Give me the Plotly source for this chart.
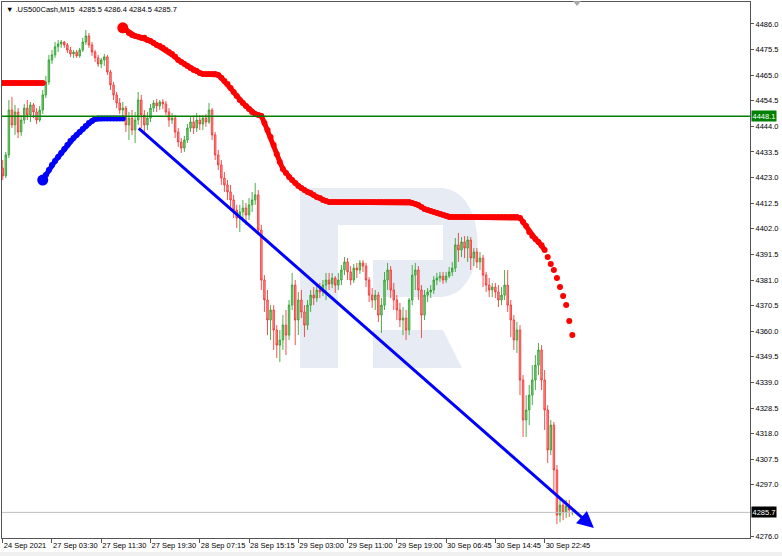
import plotly.graph_objects as go

# ---------------- data (M15 candles sampled every 2 bars) ----------------
opens = [4426.9, 4423.7, 4432.3, 4450.7, 4444.6, 4449.9, 4441.7, 4446.6, 4451.5, 4448.7,
         4452.8, 4449.9, 4446.6, 4450.7, 4456.9, 4462.2, 4471.2, 4473.3, 4476.6, 4477.8,
         4478.6, 4477.4, 4475.3, 4473.7, 4474.5, 4472.9, 4475.3, 4478.6, 4481.1, 4477.4,
         4474.5, 4472.1, 4469.6, 4471.2, 4472.5, 4466.3, 4461.0, 4456.9, 4453.6, 4450.7,
         4451.5, 4444.6, 4447.4, 4442.5, 4446.6, 4454.8, 4448.7, 4444.6, 4447.4, 4451.5,
         4453.6, 4452.4, 4454.0, 4453.2, 4449.9, 4446.6, 4447.4, 4441.7, 4437.6, 4435.1,
         4438.4, 4443.3, 4445.8, 4443.3, 4446.6, 4445.0, 4447.4, 4445.8, 4450.7, 4440.5,
         4432.3, 4428.2, 4422.8, 4420.0, 4417.1, 4413.8, 4409.7, 4406.4, 4408.9, 4410.5,
         4407.7, 4411.8, 4413.8, 4415.9, 4401.5, 4381.0, 4372.8, 4364.6, 4368.7, 4360.5,
         4354.3, 4356.4, 4362.5, 4358.4, 4370.7, 4378.9, 4364.6, 4372.8, 4367.9, 4362.5,
         4370.7, 4374.8, 4373.6, 4376.9, 4376.1, 4378.9, 4381.0, 4379.4, 4381.8, 4378.9,
         4381.0, 4385.1, 4388.4, 4384.3, 4381.0, 4385.9, 4385.1, 4388.0, 4386.7, 4381.0,
         4374.8, 4372.8, 4374.8, 4366.6, 4370.7, 4381.0, 4385.1, 4376.9, 4372.8, 4368.7,
         4364.6, 4365.4, 4360.5, 4372.8, 4383.0, 4385.1, 4376.9, 4366.6, 4374.8, 4376.1,
         4376.9, 4381.0, 4381.8, 4382.6, 4381.0, 4382.6, 4384.3, 4385.9, 4395.4, 4393.3,
         4396.6, 4394.1, 4397.4, 4390.0, 4392.5, 4388.4, 4390.0, 4383.0, 4378.9, 4376.9,
         4378.1, 4376.1, 4372.8, 4374.8, 4378.9, 4370.7, 4364.6, 4356.4, 4360.5, 4340.0,
         4323.6, 4327.7, 4333.8, 4340.0, 4346.1, 4352.3, 4340.0, 4327.7, 4311.3, 4321.5,
         4303.1, 4284.6, 4288.7, 4285.8, 4288.3, 4285.5]

highs = [4430.2, 4433.5, 4454.8, 4456.1, 4452.8, 4451.5, 4448.7, 4453.2, 4454.8, 4454.0,
         4453.6, 4451.5, 4452.4, 4458.9, 4464.7, 4473.3, 4475.3, 4478.6, 4479.4, 4479.4,
         4479.0, 4478.2, 4476.6, 4475.3, 4475.3, 4476.2, 4480.3, 4483.5, 4482.3, 4478.6,
         4475.3, 4473.3, 4472.1, 4473.7, 4473.3, 4467.1, 4462.2, 4458.1, 4455.6, 4454.0,
         4452.4, 4449.9, 4450.7, 4449.9, 4458.1, 4456.9, 4450.7, 4449.9, 4453.2, 4454.8,
         4455.2, 4454.8, 4455.2, 4454.4, 4451.5, 4449.5, 4448.7, 4443.3, 4439.2, 4440.1,
         4445.0, 4447.9, 4448.3, 4449.5, 4448.7, 4448.7, 4449.1, 4453.6, 4451.5, 4441.7,
         4434.3, 4430.2, 4425.3, 4422.0, 4420.0, 4415.9, 4411.8, 4411.8, 4413.8, 4412.6,
         4414.6, 4417.1, 4420.8, 4417.9, 4403.6, 4383.0, 4376.9, 4370.7, 4370.7, 4362.5,
         4360.5, 4366.6, 4368.7, 4372.8, 4383.9, 4381.0, 4376.1, 4376.9, 4370.7, 4372.8,
         4376.9, 4378.1, 4378.9, 4379.8, 4381.0, 4383.9, 4383.9, 4383.9, 4382.6, 4383.9,
         4387.1, 4390.4, 4390.0, 4386.7, 4387.6, 4388.0, 4389.2, 4389.2, 4388.0, 4382.2,
         4377.7, 4376.9, 4376.1, 4373.6, 4384.3, 4388.0, 4386.7, 4379.8, 4374.8, 4371.6,
         4369.9, 4368.7, 4373.6, 4387.1, 4388.0, 4386.7, 4378.9, 4376.9, 4377.7, 4378.9,
         4382.6, 4383.9, 4384.3, 4384.3, 4384.3, 4386.3, 4388.4, 4398.2, 4400.3, 4398.6,
         4399.0, 4399.0, 4398.6, 4394.1, 4394.1, 4392.5, 4391.3, 4384.3, 4381.8, 4379.8,
         4379.8, 4378.9, 4378.1, 4385.1, 4385.1, 4372.8, 4366.6, 4363.8, 4362.5, 4342.0,
         4333.8, 4337.9, 4346.1, 4350.2, 4355.2, 4354.3, 4344.1, 4329.7, 4323.6, 4322.8,
         4305.1, 4290.8, 4289.9, 4290.8, 4290.8, 4286.4]

lows = [4422.0, 4422.8, 4431.0, 4443.3, 4440.5, 4439.2, 4440.1, 4445.0, 4446.6, 4445.8,
        4447.4, 4445.0, 4445.8, 4449.1, 4455.6, 4461.0, 4469.6, 4472.1, 4474.5, 4476.2,
        4476.2, 4474.1, 4472.5, 4472.1, 4472.1, 4472.1, 4474.5, 4477.4, 4476.2, 4472.9,
        4470.4, 4468.4, 4467.9, 4468.8, 4465.1, 4458.9, 4454.8, 4451.5, 4449.1, 4448.3,
        4441.7, 4438.4, 4440.5, 4437.2, 4444.6, 4443.3, 4441.7, 4442.5, 4445.8, 4449.9,
        4449.9, 4450.7, 4451.1, 4448.7, 4443.8, 4445.0, 4439.2, 4435.6, 4433.1, 4433.5,
        4437.2, 4441.7, 4440.9, 4441.7, 4442.5, 4442.5, 4443.8, 4445.0, 4438.4, 4430.2,
        4426.1, 4420.0, 4417.1, 4413.8, 4410.5, 4406.4, 4402.3, 4400.7, 4404.8, 4403.6,
        4405.6, 4408.9, 4411.8, 4399.5, 4376.9, 4367.9, 4358.4, 4356.4, 4352.3, 4349.0,
        4347.4, 4352.3, 4350.2, 4356.4, 4368.7, 4354.3, 4358.4, 4365.4, 4357.6, 4360.5,
        4367.9, 4370.7, 4372.0, 4373.6, 4374.4, 4372.8, 4376.9, 4377.7, 4375.7, 4376.9,
        4378.9, 4383.0, 4381.0, 4378.9, 4379.8, 4381.8, 4383.5, 4384.3, 4378.1, 4372.0,
        4369.5, 4368.7, 4363.8, 4359.3, 4368.7, 4376.9, 4373.6, 4368.7, 4364.6, 4361.7,
        4358.4, 4356.4, 4358.4, 4370.7, 4376.9, 4372.8, 4357.2, 4364.6, 4372.0, 4373.6,
        4375.3, 4378.9, 4380.2, 4379.4, 4379.8, 4381.8, 4382.6, 4384.3, 4388.4, 4390.4,
        4390.0, 4388.4, 4385.1, 4386.7, 4385.9, 4385.1, 4378.1, 4376.1, 4374.0, 4374.0,
        4373.6, 4369.9, 4370.7, 4372.8, 4367.9, 4357.6, 4352.3, 4351.1, 4333.8, 4316.6,
        4316.6, 4321.5, 4329.7, 4335.9, 4342.0, 4335.9, 4319.5, 4305.9, 4309.2, 4293.6,
        4280.9, 4281.7, 4282.5, 4283.4, 4283.8, 4284.5]

closes = [4423.7, 4432.3, 4450.7, 4444.6, 4449.9, 4441.7, 4446.6, 4451.5, 4448.7, 4452.8,
          4449.9, 4446.6, 4450.7, 4456.9, 4462.2, 4471.2, 4473.3, 4476.6, 4477.8, 4478.6,
          4477.4, 4475.3, 4473.7, 4474.5, 4472.9, 4475.3, 4478.6, 4481.1, 4477.4, 4474.5,
          4472.1, 4469.6, 4471.2, 4472.5, 4466.3, 4461.0, 4456.9, 4453.6, 4450.7, 4451.5,
          4444.6, 4447.4, 4442.5, 4446.6, 4454.8, 4448.7, 4444.6, 4447.4, 4451.5, 4453.6,
          4452.4, 4454.0, 4453.2, 4449.9, 4446.6, 4447.4, 4441.7, 4437.6, 4435.1, 4438.4,
          4443.3, 4445.8, 4443.3, 4446.6, 4445.0, 4447.4, 4445.8, 4450.7, 4440.5, 4432.3,
          4428.2, 4422.8, 4420.0, 4417.1, 4413.8, 4409.7, 4406.4, 4408.9, 4410.5, 4407.7,
          4411.8, 4413.8, 4415.9, 4401.5, 4381.0, 4372.8, 4364.6, 4368.7, 4360.5, 4354.3,
          4356.4, 4362.5, 4358.4, 4370.7, 4378.9, 4364.6, 4372.8, 4367.9, 4362.5, 4370.7,
          4374.8, 4373.6, 4376.9, 4376.1, 4378.9, 4381.0, 4379.4, 4381.8, 4378.9, 4381.0,
          4385.1, 4388.4, 4384.3, 4381.0, 4385.9, 4385.1, 4388.0, 4386.7, 4381.0, 4374.8,
          4372.8, 4374.8, 4366.6, 4370.7, 4381.0, 4385.1, 4376.9, 4372.8, 4368.7, 4364.6,
          4365.4, 4360.5, 4372.8, 4383.0, 4385.1, 4376.9, 4366.6, 4374.8, 4376.1, 4376.9,
          4381.0, 4381.8, 4382.6, 4381.0, 4382.6, 4384.3, 4385.9, 4395.4, 4393.3, 4396.6,
          4394.1, 4397.4, 4390.0, 4392.5, 4388.4, 4390.0, 4383.0, 4378.9, 4376.9, 4378.1,
          4376.1, 4372.8, 4374.8, 4378.9, 4370.7, 4364.6, 4356.4, 4360.5, 4340.0, 4323.6,
          4327.7, 4333.8, 4340.0, 4346.1, 4352.3, 4340.0, 4327.7, 4311.3, 4321.5, 4303.1,
          4284.6, 4288.7, 4285.8, 4288.3, 4286.7, 4285.7]

# upper (red) trailing indicator, None where not drawn
red_vals = [4461.8, 4461.8, 4461.8, 4461.8, 4461.8, 4461.8, 4461.8, 4461.8, 4461.8, 4461.8,
            4461.8, 4461.8, 4461.8, 4461.8, None, None, None, None, None, None,
            None, None, None, None, None, None, None, None, None, None,
            None, None, None, None, None, None, None, None, None, 4484.4,
            4483.5, 4482.3, 4481.5, 4481.1, 4480.7, 4480.3, 4480.3, 4479.4, 4479.0, 4478.2,
            4477.4, 4477.0, 4476.2, 4475.3, 4474.5, 4473.7, 4472.5, 4471.2, 4470.4, 4469.6,
            4468.8, 4467.9, 4467.1, 4466.7, 4465.9, 4465.5, 4465.5, 4465.5, 4465.5, 4465.5,
            4465.1, 4463.9, 4462.6, 4461.4, 4459.7, 4458.1, 4456.5, 4454.8, 4453.6, 4452.4,
            4451.1, 4449.9, 4449.1, 4448.7, 4448.3, 4445.4, 4442.5, 4439.6, 4436.4, 4432.7,
            4429.4, 4426.5, 4424.9, 4423.2, 4422.0, 4420.8, 4419.5, 4418.7, 4417.9, 4417.1,
            4416.7, 4415.9, 4415.0, 4414.6, 4413.8, 4413.4, 4413.0, 4413.0, 4413.0, 4413.0,
            4413.0, 4413.0, 4413.0, 4413.0, 4413.0, 4413.0, 4413.0, 4413.0, 4413.0, 4413.0,
            4413.0, 4413.0, 4413.0, 4413.0, 4413.0, 4413.0, 4413.0, 4413.0, 4413.0, 4413.0,
            4413.0, 4413.0, 4413.0, 4412.6, 4412.2, 4411.8, 4410.9, 4410.1, 4409.7, 4409.3,
            4408.9, 4408.5, 4408.1, 4407.7, 4407.2, 4406.8, 4406.8, 4406.8, 4406.8, 4406.8,
            4406.8, 4406.8, 4406.8, 4406.8, 4406.8, 4406.8, 4406.8, 4406.8, 4406.8, 4406.8,
            4406.8, 4406.8, 4406.8, 4406.8, 4406.8, 4406.8, 4406.8, 4406.8, 4406.4, 4404.8,
            4403.1, 4400.7, 4399.0, 4397.8, 4396.6, 4395.3, 4393.3, 4390.4, 4387.6, 4385.1,
            4381.8, 4378.1, 4374.4, 4370.7, 4364.2, 4358.4]

# lower (blue) trailing indicator, starts at bar 13
blue_start = 13
blue_vals = [4422.0, 4424.1, 4426.1, 4428.2, 4429.8, 4431.4, 4433.1, 4434.7, 4436.4, 4438.0,
             4439.2, 4440.5, 4441.7, 4442.9, 4444.2, 4445.4, 4446.2, 4447.0, 4447.2, 4447.2,
             4447.2, 4447.2, 4447.2, 4447.2, 4447.2, 4447.2, 4447.2]

# trend line (bar index, price) start and arrow tip
trend_bar = [43.7, 192.0]
trend_price = [4443.7, 4279.3]

level_line = 4448.1
bid_price = 4285.7

tick_bars = [0, 16, 32, 48, 64, 80, 96, 112, 128, 144, 160, 176]
tick_text = ["24 Sep 2021", "27 Sep 03:30", "27 Sep 11:30", "27 Sep 19:30", "28 Sep 07:15",
             "28 Sep 15:15", "29 Sep 03:00", "29 Sep 11:00", "29 Sep 19:00", "30 Sep 06:45",
             "30 Sep 14:45", "30 Sep 22:45"]
price_ticks = [4276.0, 4297.0, 4307.5, 4318.0, 4328.5, 4339.0, 4349.5, 4360.0, 4370.5,
               4381.0, 4391.5, 4402.0, 4412.5, 4423.0, 4433.5, 4444.0, 4454.5, 4465.0,
               4475.5, 4486.0]
title_text = "\u25BC .US500Cash,M15\u00a0\u00a04285.5 4286.4 4284.5 4285.7"

# ---------------- figure ----------------
W, H = 782, 556
ML, MR, MT, MB = 2, 32, 2, 18
PW, PH = W - ML - MR, H - MT - MB
FONT = "Liberation Sans, Arial, sans-serif"


def pp(x, y):
    """pixel -> paper coordinate string (decoration only)"""
    return f"{(x - ML) / PW:.4f},{(H - MB - y) / PH:.4f}"


def path(points, close=True):
    s = "M " + " L ".join(pp(x, y) for x, y in points)
    return s + (" Z" if close else "")


bars = list(range(len(closes)))

fig = go.Figure()

fig.add_trace(go.Candlestick(
    x=bars, open=opens, high=highs, low=lows, close=closes,
    increasing=dict(line=dict(color="rgba(45,160,45,0.85)", width=1), fillcolor="rgba(120,200,120,0.9)"),
    decreasing=dict(line=dict(color="rgba(245,50,50,0.85)", width=1), fillcolor="rgba(255,140,140,0.9)"),
    whiskerwidth=0, showlegend=False, hoverinfo="skip",
))

# red indicator: thick line part + dots
red_line_vals = red_vals[:177] + [None] * (len(red_vals) - 177)
fig.add_trace(go.Scatter(x=bars, y=red_line_vals, mode="lines",
                         line=dict(color="#ff0000", width=5), connectgaps=False,
                         showlegend=False, hoverinfo="skip"))
fig.add_trace(go.Scatter(x=bars, y=red_vals, mode="markers",
                         marker=dict(color="#ff0000", size=6, line=dict(width=0)),
                         showlegend=False, hoverinfo="skip"))
first_red = 39
fig.add_trace(go.Scatter(x=[bars[first_red]], y=[red_vals[first_red]], mode="markers",
                         marker=dict(color="#ff0000", size=11), showlegend=False, hoverinfo="skip"))

blue_bars = bars[blue_start:blue_start + len(blue_vals)]
fig.add_trace(go.Scatter(x=blue_bars, y=blue_vals, mode="lines+markers",
                         line=dict(color="#0000ff", width=5),
                         marker=dict(color="#0000ff", size=6),
                         showlegend=False, hoverinfo="skip"))
fig.add_trace(go.Scatter(x=[blue_bars[0]], y=[blue_vals[0]], mode="markers",
                         marker=dict(color="#0000ff", size=11), showlegend=False, hoverinfo="skip"))

shapes = []
wm = "#e7ebf3"
# watermark "R" logo
shapes.append(dict(type="path", xref="paper", yref="paper", layer="below", line=dict(width=0), fillcolor=wm,
                   path=path([(300, 188), (338, 188), (338, 368), (300, 368)])))
shapes.append(dict(type="path", xref="paper", yref="paper", layer="below", line=dict(width=0), fillcolor=wm,
                   path=f"M {pp(338,188)} L {pp(440,188)} C {pp(490,188)} {pp(490,297)} {pp(440,297)} "
                        f"L {pp(373,297)} L {pp(373,260)} L {pp(443,260)} L {pp(443,225)} L {pp(338,225)} Z"))
shapes.append(dict(type="path", xref="paper", yref="paper", layer="below", line=dict(width=0), fillcolor=wm,
                   path=path([(373, 330), (443, 330), (462, 368), (373, 368)])))
# level lines
shapes.append(dict(type="line", xref="paper", x0=0, x1=1, yref="y", y0=bid_price, y1=bid_price,
                   line=dict(color="#c0c0c0", width=1)))
shapes.append(dict(type="line", xref="paper", x0=0, x1=1, yref="y", y0=level_line, y1=level_line,
                   line=dict(color="#008000", width=1.5)))
# shift marker triangle
shapes.append(dict(type="path", xref="paper", yref="paper", line=dict(width=0), fillcolor="#a8a8a8",
                   path=path([(573, 1), (581, 1), (577, 6)])))
# bottom status band
shapes.append(dict(type="rect", xref="paper", yref="paper", x0=-0.01, x1=1.05,
                   y0=(H - MB - 556) / PH, y1=(H - MB - 552) / PH,
                   line=dict(width=0), fillcolor="#f0f0f0", layer="below"))

annotations = [
    dict(x=trend_bar[1], y=trend_price[1], ax=trend_bar[0], ay=trend_price[0],
         xref="x", yref="y", axref="x", ayref="y", text="", showarrow=True,
         arrowhead=2, arrowsize=1.1, arrowwidth=3, arrowcolor="#0000ff"),
    dict(x=1, xref="paper", y=level_line, yref="y", text=f"{level_line:.1f}", showarrow=False,
         xanchor="left", xshift=1, bgcolor="#008000", font=dict(color="white", size=7.5, family=FONT),
         borderpad=0.5),
    dict(x=1, xref="paper", y=bid_price, yref="y", text=f"{bid_price:.1f}", showarrow=False,
         xanchor="left", xshift=1, bgcolor="#000000", font=dict(color="white", size=7.5, family=FONT),
         borderpad=0.5),
    dict(x=(4 - ML) / PW, xref="paper", y=(H - MB - 9) / PH, yref="paper", text=title_text,
         showarrow=False, xanchor="left", yanchor="middle", font=dict(color="#000000", size=7.5, family=FONT)),
]

fig.update_layout(
    width=W, height=H,
    margin=dict(l=ML, r=MR, t=MT, b=MB, autoexpand=False),
    paper_bgcolor="white", plot_bgcolor="white",
    showlegend=False,
    shapes=shapes, annotations=annotations,
    font=dict(family=FONT, size=7.5, color="#000000"),
    xaxis=dict(range=[-0.23, 242.7], rangeslider=dict(visible=False), showgrid=False, zeroline=False,
               tickmode="array", tickvals=tick_bars, ticktext=tick_text, tickangle=0, automargin=False,
               ticks="outside", ticklen=4, tickcolor="#555555", ticklabelposition="outside right",
               showline=True, linecolor="#555555", linewidth=1, mirror=True,
               tickfont=dict(size=7.5, family=FONT, color="#000000")),
    yaxis=dict(range=[4275.2, 4495.0], side="right", showgrid=False, zeroline=False, automargin=False,
               tickmode="array", tickvals=price_ticks, tickformat=".1f",
               ticks="outside", ticklen=3, tickcolor="#555555",
               showline=True, linecolor="#555555", linewidth=1, mirror=True,
               tickfont=dict(size=7.5, family=FONT, color="#000000")),
)

fig.write_html("out.html",
               config={"displayModeBar": False, "staticPlot": True},
               post_script="document.body.style.margin='0px';document.body.style.overflow='hidden';")
